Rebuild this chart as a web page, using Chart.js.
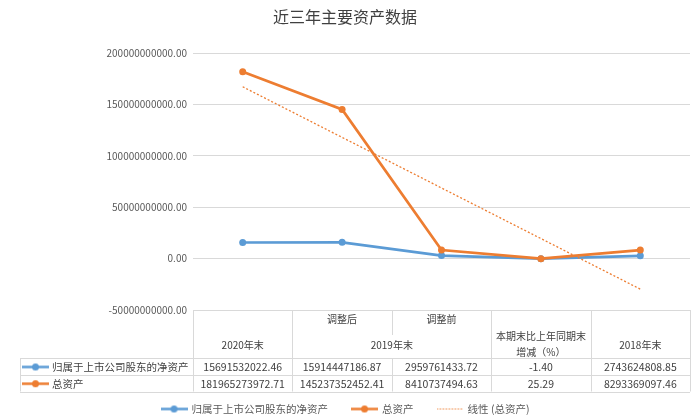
<!DOCTYPE html>
<html>
<head>
<meta charset="utf-8">
<script src="https://cdn.jsdelivr.net/npm/chart.js@4.4.1/dist/chart.umd.min.js"></script>
<style>
html, body { margin: 0; padding: 0; background: #fff; }
#wrap { width: 700px; height: 420px; }
</style>
</head>
<body>
<div id="wrap"><canvas id="myChart" width="700" height="420"></canvas></div>
<script>
// data
const categories = ["2020年末", "调整后", "调整前", "本期末比上年同期末增减（%）", "2018年末"];
const netAssets = [15691532022.46, 15914447186.87, 2959761433.72, -1.40, 2743624808.85];
const totalAssets = [181965273972.71, 145237352452.41, 8410737494.63, 25.29, 8293369097.46];
const trendTotal = [167300000000, null, null, null, -29700000000];
const seriesNames = ["归属于上市公司股东的净资产", "总资产", "线性 (总资产)"];

const BLUE = "#5B9BD5";
const ORANGE = "#ED7D31";
const FONT = "'Noto Sans CJK SC', 'Microsoft YaHei', sans-serif";

// small marker pictures for legend / table rows
function marker(color, dotted) {
  const c = document.createElement("canvas");
  c.width = 27; c.height = 9;
  const g = c.getContext("2d");
  g.strokeStyle = color;
  if (dotted) {
    g.lineWidth = 1.2;
    g.setLineDash([1.5, 1.5]);
    g.beginPath(); g.moveTo(0, 4.5); g.lineTo(27, 4.5); g.stroke();
  } else {
    g.lineWidth = 2.5;
    g.beginPath(); g.moveTo(0, 4.5); g.lineTo(27, 4.5); g.stroke();
    g.fillStyle = color;
    g.beginPath(); g.arc(13.5, 4.5, 3.5, 0, Math.PI * 2); g.fill();
  }
  return c;
}
const markers = [marker(BLUE), marker(ORANGE), marker(ORANGE, true)];

// data table under the plot + legend line at the bottom
const tablePlugin = {
  id: "dataTable",
  afterDraw(chart) {
    const ctx = chart.ctx;
    const a = chart.chartArea;
    const colW = (a.right - a.left) / categories.length;
    const top = a.bottom;
    const headB = top + 48;
    const r1 = headB + 17;
    const r2 = r1 + 16.5;
    const left = 20;
    const colX = i => a.left + colW * i;

    ctx.save();
    ctx.strokeStyle = "#d9d9d9";
    ctx.lineWidth = 1;
    const h = (x1, x2, y) => { ctx.beginPath(); ctx.moveTo(x1, Math.round(y) + 0.5); ctx.lineTo(x2, Math.round(y) + 0.5); ctx.stroke(); };
    const v = (x, y1, y2) => { ctx.beginPath(); ctx.moveTo(Math.round(x) + 0.5, y1); ctx.lineTo(Math.round(x) + 0.5, y2); ctx.stroke(); };
    h(a.left, a.right, top);
    h(left, a.right, headB);
    h(left, a.right, r1);
    h(left, a.right, r2);
    v(left, headB, r2);
    for (let i = 0; i <= categories.length; i++) {
      if (i === 2) {
        v(colX(i), top, top + 25);
        v(colX(i), headB, r2);
      } else {
        v(colX(i), top, r2);
      }
    }

    ctx.fillStyle = "#404040";
    ctx.font = "10px " + FONT;
    ctx.textAlign = "center";
    ctx.textBaseline = "middle";
    const cx = i => colX(i) + colW / 2;
    ctx.fillText(categories[0], cx(0), top + 35);
    ctx.fillText(categories[1], cx(1), top + 9);
    ctx.fillText(categories[2], cx(2), top + 9);
    ctx.fillText("2019年末", colX(2), top + 35);
    ctx.fillText("本期末比上年同期末", cx(3), top + 26);
    ctx.fillText("增减（%）", cx(3), top + 42);
    ctx.fillText(categories[4], cx(4), top + 35);

    ctx.font = "10.5px " + FONT;
    netAssets.forEach((val, i) => ctx.fillText(val.toFixed(2), cx(i), (headB + r1) / 2 + 0.5));
    totalAssets.forEach((val, i) => ctx.fillText(val.toFixed(2), cx(i), (r1 + r2) / 2 + 0.5));

    ctx.textAlign = "left";
    ctx.fillText(seriesNames[0], left + 32, (headB + r1) / 2 + 0.5);
    ctx.fillText(seriesNames[1], left + 32, (r1 + r2) / 2 + 0.5);
    ctx.drawImage(markers[0], left + 2, (headB + r1) / 2 - 4);
    ctx.drawImage(markers[1], left + 2, (r1 + r2) / 2 - 4);

    // legend
    ctx.fillStyle = "#595959";
    ctx.font = "10.5px " + FONT;
    const widths = seriesNames.map(t => 27 + 4 + ctx.measureText(t).width);
    const total = widths.reduce((s, w) => s + w, 0) + 23 * (widths.length - 1);
    let lx = 345 - total / 2;
    const ly = 409;
    seriesNames.forEach((t, i) => {
      ctx.drawImage(markers[i], lx, ly - 4.5);
      ctx.fillText(t, lx + 31, ly);
      lx += widths[i] + 23;
    });
    ctx.restore();
  }
};

const ctx = document.getElementById("myChart").getContext("2d");
new Chart(ctx, {
  type: "line",
  data: {
    labels: categories,
    datasets: [
      {
        label: seriesNames[0],
        data: netAssets,
        borderColor: BLUE,
        backgroundColor: BLUE,
        borderWidth: 2.7,
        pointRadius: 3.5,
        pointBorderWidth: 0,
        order: 3
      },
      {
        label: seriesNames[1],
        data: totalAssets,
        borderColor: ORANGE,
        backgroundColor: ORANGE,
        borderWidth: 2.7,
        pointRadius: 3.5,
        pointBorderWidth: 0,
        order: 2
      },
      {
        label: seriesNames[2],
        data: trendTotal,
        borderColor: ORANGE,
        borderWidth: 1.3,
        borderDash: [2, 2],
        pointRadius: 0,
        spanGaps: true,
        order: 1
      }
    ]
  },
  options: {
    responsive: false,
    animation: false,
    layout: { padding: { left: 0, right: 10, top: 0, bottom: 29 } },
    plugins: {
      tooltip: { enabled: false },
      legend: { display: false },
      title: {
        display: true,
        text: "近三年主要资产数据",
        color: "#404040",
        font: { family: FONT, size: 16, weight: "normal" },
        padding: { top: 7, bottom: 27 }
      }
    },
    scales: {
      x: {
        offset: true,
        grid: { display: false },
        border: { display: false },
        ticks: { display: false },
        afterFit: s => { s.height = 81; }
      },
      y: {
        min: -50000000000,
        max: 200000000000,
        border: { display: false },
        grid: { color: "#d9d9d9", drawTicks: false },
        ticks: {
          stepSize: 50000000000,
          padding: 6,
          color: "#595959",
          font: { family: FONT, size: 10 },
          callback: val => Number(val).toFixed(2)
        },
        afterFit: s => { s.width = 193; }
      }
    }
  },
  plugins: [tablePlugin]
});
</script>
</body>
</html>
